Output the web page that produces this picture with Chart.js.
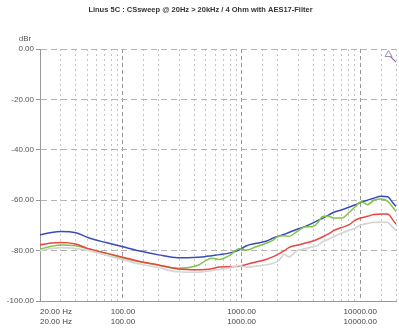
<!DOCTYPE html>
<html>
<head>
<meta charset="utf-8">
<script src="https://cdn.jsdelivr.net/npm/chart.js@4/dist/chart.umd.min.js"></script>
<style>
html,body{margin:0;padding:0;background:#fff;overflow:hidden;}
#wrap{position:relative;width:401px;height:330px;}
</style>
</head>
<body>
<div id="wrap"><canvas id="c"></canvas></div>
<script>
const titleText = "Linus 5C : CSsweep @ 20Hz > 20kHz / 4 Ohm with AES17-Filter";
const yUnit = "dBr";
const freqs = [20,25,30,40,52,72,100,136,200,290,430,490,560,650,800,950,1100,1300,1630,1850,2050,2300,2500,2900,3400,4000,4400,4800,5400,6000,7000,8000,9100,10200,11500,13000,15000,17000,18800,20000];
const blueVals = [-73.8,-72.8,-72.4,-72.9,-75.0,-76.8,-78.5,-80.1,-81.7,-82.8,-82.6,-82.4,-82.0,-81.6,-80.9,-79.8,-78.1,-77.2,-76.2,-75.0,-74.3,-73.5,-72.8,-71.6,-70.5,-69.0,-68.0,-67.2,-65.9,-64.8,-63.8,-62.8,-61.8,-60.8,-60.0,-59.2,-58.4,-58.6,-61.0,-62.5];
const greenVals = [-79.4,-78.3,-77.8,-78.1,-79.4,-81.0,-83.0,-84.3,-85.8,-87.0,-85.8,-84.2,-83.0,-83.5,-81.8,-79.3,-79.8,-78.6,-77.0,-75.8,-74.2,-74.1,-74.4,-72.6,-70.6,-70.4,-68.8,-66.5,-66.4,-67.1,-67.1,-65.0,-62.5,-60.6,-61.8,-60.0,-59.5,-60.4,-62.8,-64.5];
const redVals = [-77.7,-77.0,-76.8,-77.4,-79.4,-81.0,-82.6,-84.2,-85.7,-87.3,-87.6,-87.5,-87.2,-86.5,-86.4,-86.2,-85.5,-84.6,-83.4,-82.4,-81.3,-80.0,-78.8,-77.9,-77.1,-76.2,-75.4,-74.6,-73.4,-72.0,-70.8,-69.8,-67.9,-67.0,-66.4,-65.7,-65.5,-65.5,-67.8,-69.5];
const grayVals = [-80.0,-79.2,-78.8,-79.2,-80.0,-81.8,-83.6,-85.2,-86.8,-88.4,-88.6,-88.3,-88.0,-87.5,-86.8,-86.0,-86.6,-86.2,-85.6,-85.0,-84.0,-81.5,-82.5,-80.2,-79.3,-78.5,-78.0,-76.5,-75.5,-74.5,-73.0,-72.0,-71.0,-69.8,-69.2,-68.8,-68.7,-68.8,-70.8,-72.0];
const markerFreqs = [17300,20000];
const markerVals = [-2.2,-5.2];
const xTickValues = [20,100,1000,10000];
const xTickLabels = ["20.00 Hz","100.00","1000.00","10000.00"];

function pts(vals, fs){ return (fs||freqs).map((f,i)=>({x:f,y:vals[i]})); }
function line(vals,color,w){
  return {data:pts(vals),borderColor:color,borderWidth:w,pointRadius:0,fill:false,tension:0.35,cubicInterpolationMode:'monotone'};
}
const FONT = 'Arial, "Liberation Sans", sans-serif';

const extras = {
  id:'extras',
  afterDraw(chart){
    const ctx = chart.ctx, xs = chart.scales.x, area = chart.chartArea;
    ctx.save();
    ctx.fillStyle = '#444';
    ctx.font = '8px ' + FONT;
    ctx.textBaseline = 'middle';
    xTickValues.forEach((v,i)=>{
      const px = xs.getPixelForValue(v);
      ctx.textAlign = i===0 ? 'left' : 'center';
      const lx = i===0 ? area.left : px;
      ctx.fillText(xTickLabels[i], lx, area.bottom + 10.5);
      ctx.fillText(xTickLabels[i], lx, area.bottom + 21);
    });
    ctx.textAlign = 'center';
    ctx.fillStyle = '#555';
    ctx.fillText(yUnit, 25, area.top - 10.5);
    ctx.restore();
  }
};

new Chart(document.getElementById('c'), {
  type:'line',
  data:{datasets:[
    line(grayVals,'#d6d6d6',1.7),
    line(redVals,'#e8463f',1.5),
    line(greenVals,'#80c448',1.5),
    line(blueVals,'#3a4cbc',1.5),
    {data:pts(markerVals,markerFreqs),borderColor:'#a064c8',borderWidth:1.2,pointRadius:[4,0],pointStyle:'triangle',pointBorderColor:'#9a8aa8',pointBackgroundColor:'#fff',pointBorderWidth:1,tension:0,clip:false}
  ]},
  options:{
    responsive:true, maintainAspectRatio:false, animation:false,
    layout:{padding:{left:0,right:0,top:0,bottom:0}},
    plugins:{
      legend:{display:false}, tooltip:{enabled:false},
      title:{display:true,text:titleText,color:'#333',font:{family:FONT,size:7.5,weight:'bold'},padding:{top:5,bottom:35}}
    },
    scales:{
      x:{type:'logarithmic',min:20,max:20000,
        afterFit(s){ s.height = 29; },
        ticks:{display:false,autoSkip:false},
        grid:{drawTicks:false,
          color(ctx){ const v=ctx.tick&&ctx.tick.value; if(v===20) return 'rgba(0,0,0,0)'; const l=Math.log10(v); return Math.abs(l-Math.round(l))<1e-6 ? '#999' : '#c4c4c4'; },
          lineWidth:1},
        border:{display:true,color:'#999',width:1,
          dash(ctx){ const v=ctx.tick&&ctx.tick.value; if(v===undefined) return []; const l=Math.log10(v); return Math.abs(l-Math.round(l))<1e-6 ? [4,3] : [2,3]; }}
      },
      y:{min:-100,max:0,
        afterFit(s){ s.width = 40; },
        ticks:{stepSize:20,padding:2,color:'#555',font:{family:FONT,size:8},callback:(v)=>Number(v).toFixed(2)},
        grid:{color:'#b4b4b4',lineWidth:1,drawTicks:true,tickLength:4,tickColor:'#999'},
        border:{display:true,color:'#999',width:1,dash:[6,4]}
      }
    }
  },
  plugins:[extras]
});
</script>
</body>
</html>
